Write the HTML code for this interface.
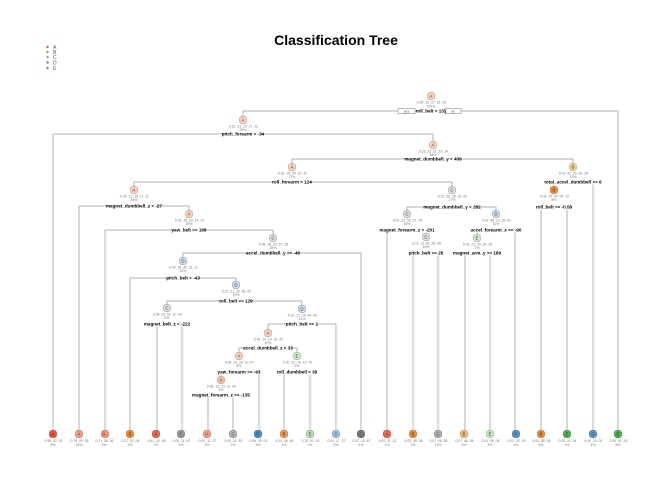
<!DOCTYPE html>
<html><head><meta charset="utf-8"><style>
html,body{margin:0;padding:0;background:#fff;}
svg{display:block;font-family:"Liberation Sans",sans-serif;}
.e{stroke:#b0b0b0;stroke-width:1;fill:none;}
.lb{font-size:4.6px;fill:#000;text-anchor:middle;font-weight:bold;}
.nt{font-size:3.4px;fill:#777;text-anchor:middle;}
.nl{font-size:4.4px;text-anchor:middle;fill:#333;}
</style></head><body>
<svg width="672" height="480" viewBox="0 0 672 480" xmlns="http://www.w3.org/2000/svg">
<text x="336" y="45" font-size="14" font-weight="bold" text-anchor="middle" fill="#000">Classification Tree</text>
<g font-size="5" fill="#555">
<circle cx="47.5" cy="47" r="1.2" fill="#e8553a"/><text x="53" y="49">A</text>
<circle cx="47.5" cy="52" r="1.2" fill="#f08a30"/><text x="53" y="54">B</text>
<circle cx="47.5" cy="57" r="1.2" fill="#a0a0a0"/><text x="53" y="59">C</text>
<circle cx="47.5" cy="62.5" r="1.2" fill="#4a90c8"/><text x="53" y="64.5">D</text>
<circle cx="47.5" cy="68" r="1.2" fill="#50b050"/><text x="53" y="70">E</text>
</g>
<g class="e">
<!-- root -->
<path d="M243 111H398M461 111H618V431M243 111V117"/>
<path d="M53 134H433M53 134V431M433 134V142"/>
<path d="M292 159H573M292 159V164M573 159V164"/>
<path d="M134 182H452M134 182V187M452 182V187"/>
<path d="M79 206H189M79 206V431M189 206V211"/>
<path d="M105 230H273M105 230V431M273 230V235"/>
<path d="M183 253H361M183 253V258M361 253V431"/>
<path d="M130 278H236M130 278V431M236 278V282"/>
<path d="M167 301H302M167 301V305M302 301V306"/>
<path d="M157 324H182M157 324V431M182 324V431"/>
<path d="M268 324H336M268 324V330M336 324V431"/>
<path d="M239 348H297M239 348V353M297 348V353"/>
<path d="M221 372H259M221 372V377M259 372V431"/>
<path d="M208 395H233M208 395V431M233 395V431"/>
<path d="M284 372H310M284 372V431M310 372V431"/>
<path d="M407 207H496M407 207V211M496 207V211"/>
<path d="M387 230H426M387 230V431M426 230V234"/>
<path d="M413 253H438M413 253V431M438 253V431"/>
<path d="M477 230H515M477 230V235M515 230V431"/>
<path d="M465 253H490M465 253V431M490 253V431"/>
<path d="M554 182H593M554 182V187M593 182V431"/>
<path d="M541 207H567M541 207V431M567 207V431"/>
</g>
<g stroke="#e6e6e6" stroke-width="1.5">
<path d="M105.8 232V431M182.8 326V431M259.8 374V431M310.8 374V431M413.8 255V431M438.8 255V431M490.8 255V431M593.8 184V431M336.8 326V431"/>
</g>
<!-- yes/no -->
<rect x="398" y="108.5" width="17" height="5" fill="#fff" stroke="#888" stroke-width="0.6"/>
<text x="406.5" y="112.5" font-size="3.5" text-anchor="middle" fill="#555">yes</text>
<rect x="445" y="108.5" width="16" height="5" fill="#fff" stroke="#888" stroke-width="0.6"/>
<text x="453" y="112.5" font-size="3.5" text-anchor="middle" fill="#555">no</text>
<line x1="415" y1="111" x2="445" y2="111" stroke="#b0b0b0"/>
<!-- split labels -->
<g>
<rect x="418" y="108.5" width="26" height="5" fill="#fff"/><text class="lb" x="431" y="112.7">roll_belt &lt; 131</text>
<rect x="225" y="131.5" width="36" height="5" fill="#fff"/><text class="lb" x="243" y="135.7">pitch_forearm &lt; -34</text>
<rect x="410" y="156.5" width="46" height="5" fill="#fff"/><text class="lb" x="433" y="160.7">magnet_dumbbell_y &lt; 439</text>
<rect x="274" y="179.5" width="36" height="5" fill="#fff"/><text class="lb" x="292" y="183.7">roll_forearm &lt; 124</text>
<rect x="111" y="203.5" width="46" height="5" fill="#fff"/><text class="lb" x="134" y="207.7">magnet_dumbbell_z &lt; -27</text>
<rect x="175" y="227.5" width="28" height="5" fill="#fff"/><text class="lb" x="189" y="231.7">yaw_belt &gt;= 169</text>
<rect x="250" y="250.5" width="46" height="5" fill="#fff"/><text class="lb" x="273" y="254.7">accel_dumbbell_y &gt;= -40</text>
<rect x="168" y="275.5" width="30" height="5" fill="#fff"/><text class="lb" x="183" y="279.7">pitch_belt &lt; -43</text>
<rect x="222" y="298.5" width="28" height="5" fill="#fff"/><text class="lb" x="236" y="302.7">roll_belt &gt;= 129</text>
<rect x="145" y="321.5" width="44" height="5" fill="#fff"/><text class="lb" x="167" y="325.7">magnet_belt_z &lt; -222</text>
<rect x="288" y="321.5" width="28" height="5" fill="#fff"/><text class="lb" x="302" y="325.7">pitch_belt &gt;= 1</text>
<rect x="245" y="345.5" width="46" height="5" fill="#fff"/><text class="lb" x="268" y="349.7">accel_dumbbell_z &lt; 33</text>
<rect x="219" y="369.5" width="40" height="5" fill="#fff"/><text class="lb" x="239" y="373.7">yaw_forearm &gt;= -93</text>
<rect x="196" y="392.5" width="50" height="5" fill="#fff"/><text class="lb" x="221" y="396.7">magnet_forearm_z &gt;= -135</text>
<rect x="279" y="369.5" width="36" height="5" fill="#fff"/><text class="lb" x="297" y="373.7">roll_dumbbell &lt; 39</text>
<rect x="429" y="204.5" width="46" height="5" fill="#fff"/><text class="lb" x="452" y="208.7">magnet_dumbbell_y &lt; 282</text>
<rect x="384" y="227.5" width="46" height="5" fill="#fff"/><text class="lb" x="407" y="231.7">magnet_forearm_z &lt; -201</text>
<rect x="412" y="250.5" width="28" height="5" fill="#fff"/><text class="lb" x="426" y="254.7">pitch_belt &gt;= 26</text>
<rect x="474" y="227.5" width="44" height="5" fill="#fff"/><text class="lb" x="496" y="231.7">accel_forearm_x &gt;= -90</text>
<rect x="457" y="250.5" width="40" height="5" fill="#fff"/><text class="lb" x="477" y="254.7">magnet_arm_y &gt;= 189</text>
<rect x="548" y="179.5" width="50" height="5" fill="#fff"/><text class="lb" x="573" y="183.7">total_accel_dumbbell &gt;= 6</text>
<rect x="536" y="204.5" width="36" height="5" fill="#fff"/><text class="lb" x="554" y="208.7">roll_belt &gt;= -0.58</text>
</g>
<!-- internal nodes -->
<g stroke-width="0.7">
<rect x="427.5" y="92.5" width="7" height="7" rx="2.5" fill="#f8d3c4" stroke="#e09a82"/><text class="nl" x="431" y="97.6">A</text><text class="nt" x="431" y="103.5">.0.28 .19 .17 .16 .18</text><text class="nt" x="431" y="107.5">100%</text>
<rect x="239.5" y="116.5" width="7" height="7" rx="2.5" fill="#f8d3c4" stroke="#e09a82"/><text class="nl" x="243" y="121.6">A</text><text class="nt" x="243" y="127.5">.0.31 .21 .19 .17 .12</text><text class="nt" x="243" y="131">92%</text>
<rect x="429.5" y="141.5" width="7" height="7" rx="2.5" fill="#f8d3c4" stroke="#e09a82"/><text class="nl" x="433" y="146.6">A</text><text class="nt" x="433" y="152.5">.0.23 .23 .21 .19 .14</text><text class="nt" x="433" y="156">84%</text>
<rect x="288.5" y="163.5" width="7" height="7" rx="2.5" fill="#f8d3c4" stroke="#e09a82"/><text class="nl" x="292" y="168.6">A</text><text class="nt" x="292" y="174.5">.0.28 .19 .24 .19 .10</text><text class="nt" x="292" y="178">71%</text>
<rect x="569.5" y="163.5" width="7" height="7" rx="2.5" fill="#f8cc9a" stroke="#e0a060"/><text class="nl" x="573" y="168.6">B</text><text class="nt" x="573" y="174.5">.0.03 .51 .03 .09 .34</text><text class="nt" x="573" y="178">13%</text>
<rect x="130.5" y="186.5" width="7" height="7" rx="2.5" fill="#f8d3c4" stroke="#e09a82"/><text class="nl" x="134" y="191.6">A</text><text class="nt" x="134" y="197.5">.0.46 .13 .18 .11 .11</text><text class="nt" x="134" y="201">44%</text>
<rect x="448.5" y="186.5" width="7" height="7" rx="2.5" fill="#dedede" stroke="#aaa"/><text class="nl" x="452" y="191.6">C</text><text class="nt" x="452" y="197.5">.0.01 .26 .35 .29 .09</text><text class="nt" x="452" y="201">27%</text>
<rect x="550.5" y="186.5" width="7" height="7" rx="2.5" fill="#f08a30" stroke="#d07020"/><text class="nl" x="554" y="191.6">B</text><text class="nt" x="554" y="197.5">.0.04 .76 .04 .04 .12</text><text class="nt" x="554" y="201">8%</text>
<rect x="185.5" y="210.5" width="7" height="7" rx="2.5" fill="#f8d3c4" stroke="#e09a82"/><text class="nl" x="189" y="215.6">A</text><text class="nt" x="189" y="221.5">.0.33 .16 .23 .14 .14</text><text class="nt" x="189" y="225">29%</text>
<rect x="403.5" y="210.5" width="7" height="7" rx="2.5" fill="#dedede" stroke="#aaa"/><text class="nl" x="407" y="215.6">C</text><text class="nt" x="407" y="221.5">.0.01 .12 .50 .21 .15</text><text class="nt" x="407" y="225">16%</text>
<rect x="492.5" y="210.5" width="7" height="7" rx="2.5" fill="#cfdcee" stroke="#8aaad0"/><text class="nl" x="496" y="215.6">D</text><text class="nt" x="496" y="221.5">.0.02 .45 .13 .39 .01</text><text class="nt" x="496" y="225">11%</text>
<rect x="269.5" y="234.5" width="7" height="7" rx="2.5" fill="#dedede" stroke="#aaa"/><text class="nl" x="273" y="239.6">C</text><text class="nt" x="273" y="245.5">.0.08 .18 .29 .27 .18</text><text class="nt" x="273" y="249">25%</text>
<rect x="422.5" y="233.5" width="7" height="7" rx="2.5" fill="#dedede" stroke="#aaa"/><text class="nl" x="426" y="238.6">C</text><text class="nt" x="426" y="244.5">.0.01 .12 .51 .28 .08</text><text class="nt" x="426" y="248">15%</text>
<rect x="473.5" y="234.5" width="7" height="7" rx="2.5" fill="#d2ead0" stroke="#90c090"/><text class="nl" x="477" y="239.6">E</text><text class="nt" x="477" y="245.5">.0.03 .21 .04 .33 .39</text><text class="nt" x="477" y="249">7%</text>
<rect x="179.5" y="257.5" width="7" height="7" rx="2.5" fill="#cfdcee" stroke="#8aaad0"/><text class="nl" x="183" y="262.6">D</text><text class="nt" x="183" y="268.5">.0.09 .18 .30 .32 .11</text><text class="nt" x="183" y="272">22%</text>
<rect x="232.5" y="281.5" width="7" height="7" rx="2.5" fill="#cfdcee" stroke="#8aaad0"/><text class="nl" x="236" y="286.6">D</text><text class="nt" x="236" y="292.5">.0.01 .21 .33 .36 .09</text><text class="nt" x="236" y="296">19%</text>
<rect x="163.5" y="304.5" width="7" height="7" rx="2.5" fill="#dedede" stroke="#aaa"/><text class="nl" x="167" y="309.6">C</text><text class="nt" x="167" y="315.5">.0.08 .19 .52 .10 .05</text><text class="nt" x="167" y="319">5%</text>
<rect x="298.5" y="305.5" width="7" height="7" rx="2.5" fill="#cfdcee" stroke="#8aaad0"/><text class="nl" x="302" y="310.6">D</text><text class="nt" x="302" y="316.5">.0.10 .21 .26 .44 .09</text><text class="nt" x="302" y="320">14%</text>
<rect x="264.5" y="329.5" width="7" height="7" rx="2.5" fill="#f8d3c4" stroke="#e09a82"/><text class="nl" x="268" y="334.6">A</text><text class="nt" x="268" y="340.5">.0.44 .14 .14 .09 .20</text><text class="nt" x="268" y="344">10%</text>
<rect x="235.5" y="352.5" width="7" height="7" rx="2.5" fill="#f8d3c4" stroke="#e09a82"/><text class="nl" x="239" y="357.6">A</text><text class="nt" x="239" y="363.5">.0.56 .19 .18 .10 .07</text><text class="nt" x="239" y="367">8%</text>
<rect x="293.5" y="352.5" width="7" height="7" rx="2.5" fill="#d2ead0" stroke="#90c090"/><text class="nl" x="297" y="357.6">E</text><text class="nt" x="297" y="363.5">.0.20 .02 .16 .13 .70</text><text class="nt" x="297" y="367">3%</text>
<rect x="217.5" y="376.5" width="7" height="7" rx="2.5" fill="#f8c0a8" stroke="#e09a82"/><text class="nl" x="221" y="381.6">A</text><text class="nt" x="221" y="387.5">.0.56 .15 .23 .02 .04</text><text class="nt" x="221" y="391">5%</text>
</g>
<!-- leaves -->
<g stroke-width="0.7">
<rect x="49.5" y="430.5" width="7" height="7" rx="2.5" fill="#e8553a" stroke="#c04028"/><text class="nl" x="53" y="435.6">A</text><text class="nt" x="53" y="442">.0.98 .02 .00</text><text class="nt" x="53" y="446">8%</text>
<rect x="75.5" y="430.5" width="7" height="7" rx="2.5" fill="#f4a088" stroke="#d07860"/><text class="nl" x="79" y="435.6">A</text><text class="nt" x="79" y="442">.0.78 .09 .05</text><text class="nt" x="79" y="446">15%</text>
<rect x="101.5" y="430.5" width="7" height="7" rx="2.5" fill="#f4907a" stroke="#d07060"/><text class="nl" x="104" y="435.6">A</text><text class="nt" x="104" y="442">.0.74 .08 .06</text><text class="nt" x="104" y="446">4%</text>
<rect x="126.5" y="430.5" width="7" height="7" rx="2.5" fill="#f08a30" stroke="#d07020"/><text class="nl" x="130" y="435.6">B</text><text class="nt" x="130" y="442">.0.27 .32 .06</text><text class="nt" x="130" y="446">3%</text>
<rect x="152.5" y="430.5" width="7" height="7" rx="2.5" fill="#ec6a48" stroke="#c04028"/><text class="nl" x="156" y="435.6">A</text><text class="nt" x="156" y="442">.0.61 .22 .05</text><text class="nt" x="156" y="446">2%</text>
<rect x="177.5" y="430.5" width="7" height="7" rx="2.5" fill="#9a9a9a" stroke="#777"/><text class="nl" x="181" y="435.6">C</text><text class="nt" x="181" y="442">.0.00 .11 .67</text><text class="nt" x="181" y="446">3%</text>
<rect x="203.5" y="430.5" width="7" height="7" rx="2.5" fill="#f4a088" stroke="#d07860"/><text class="nl" x="207" y="435.6">A</text><text class="nt" x="207" y="442">.0.61 .11 .07</text><text class="nt" x="207" y="446">3%</text>
<rect x="229.5" y="430.5" width="7" height="7" rx="2.5" fill="#b8b8b8" stroke="#888"/><text class="nl" x="233" y="435.6">C</text><text class="nt" x="233" y="442">.0.05 .21 .52</text><text class="nt" x="233" y="446">2%</text>
<rect x="254.5" y="430.5" width="7" height="7" rx="2.5" fill="#4a90c8" stroke="#2a70a8"/><text class="nl" x="258" y="435.6">D</text><text class="nt" x="258" y="442">.0.06 .29 .02</text><text class="nt" x="258" y="446">3%</text>
<rect x="280.5" y="430.5" width="7" height="7" rx="2.5" fill="#f09a50" stroke="#d07020"/><text class="nl" x="284" y="435.6">B</text><text class="nt" x="284" y="442">.0.24 .46 .06</text><text class="nt" x="284" y="446">1%</text>
<rect x="306.5" y="430.5" width="7" height="7" rx="2.5" fill="#b8e0b0" stroke="#80b080"/><text class="nl" x="310" y="435.6">E</text><text class="nt" x="310" y="442">.0.15 .02 .19</text><text class="nt" x="310" y="446">2%</text>
<rect x="332.5" y="430.5" width="7" height="7" rx="2.5" fill="#a8c8e8" stroke="#6a9ac8"/><text class="nl" x="336" y="435.6">D</text><text class="nt" x="336" y="442">.0.01 .17 .27</text><text class="nt" x="336" y="446">5%</text>
<rect x="357.5" y="430.5" width="7" height="7" rx="2.5" fill="#7a7a7a" stroke="#555"/><text class="nl" x="361" y="435.6">C</text><text class="nt" x="361" y="442">.0.02 .10 .67</text><text class="nt" x="361" y="446">4%</text>
<rect x="383.5" y="430.5" width="7" height="7" rx="2.5" fill="#ec6a48" stroke="#c04028"/><text class="nl" x="387" y="435.6">A</text><text class="nt" x="387" y="442">.0.61 .11 .12</text><text class="nt" x="387" y="446">1%</text>
<rect x="409.5" y="430.5" width="7" height="7" rx="2.5" fill="#f08a30" stroke="#d07020"/><text class="nl" x="413" y="435.6">B</text><text class="nt" x="413" y="442">.0.03 .48 .08</text><text class="nt" x="413" y="446">1%</text>
<rect x="434.5" y="430.5" width="7" height="7" rx="2.5" fill="#b0b0b0" stroke="#888"/><text class="nl" x="438" y="435.6">C</text><text class="nt" x="438" y="442">.0.07 .08 .58</text><text class="nt" x="438" y="446">13%</text>
<rect x="460.5" y="430.5" width="7" height="7" rx="2.5" fill="#f8b878" stroke="#d09050"/><text class="nl" x="464" y="435.6">B</text><text class="nt" x="464" y="442">.0.07 .48 .05</text><text class="nt" x="464" y="446">3%</text>
<rect x="486.5" y="430.5" width="7" height="7" rx="2.5" fill="#c8e8c0" stroke="#90c090"/><text class="nl" x="490" y="435.6">E</text><text class="nt" x="490" y="442">.0.01 .08 .04</text><text class="nt" x="490" y="446">4%</text>
<rect x="512.5" y="430.5" width="7" height="7" rx="2.5" fill="#5a9ad0" stroke="#2a70a8"/><text class="nl" x="516" y="435.6">D</text><text class="nt" x="516" y="442">.0.01 .22 .03</text><text class="nt" x="516" y="446">4%</text>
<rect x="537.5" y="430.5" width="7" height="7" rx="2.5" fill="#f08a30" stroke="#d07020"/><text class="nl" x="541" y="435.6">B</text><text class="nt" x="541" y="442">.0.04 .88 .05</text><text class="nt" x="541" y="446">6%</text>
<rect x="563.5" y="430.5" width="7" height="7" rx="2.5" fill="#50b050" stroke="#309030"/><text class="nl" x="567" y="435.6">E</text><text class="nt" x="567" y="442">.0.05 .21 .04</text><text class="nt" x="567" y="446">1%</text>
<rect x="589.5" y="430.5" width="7" height="7" rx="2.5" fill="#5a9ad0" stroke="#2a70a8"/><text class="nl" x="593" y="435.6">D</text><text class="nt" x="593" y="442">.0.00 .13 .02</text><text class="nt" x="593" y="446">4%</text>
<rect x="614.5" y="430.5" width="7" height="7" rx="2.5" fill="#50b050" stroke="#309030"/><text class="nl" x="618" y="435.6">E</text><text class="nt" x="618" y="442">.0.00 .01 .00</text><text class="nt" x="618" y="446">8%</text>
</g>
</svg>
</body></html>
